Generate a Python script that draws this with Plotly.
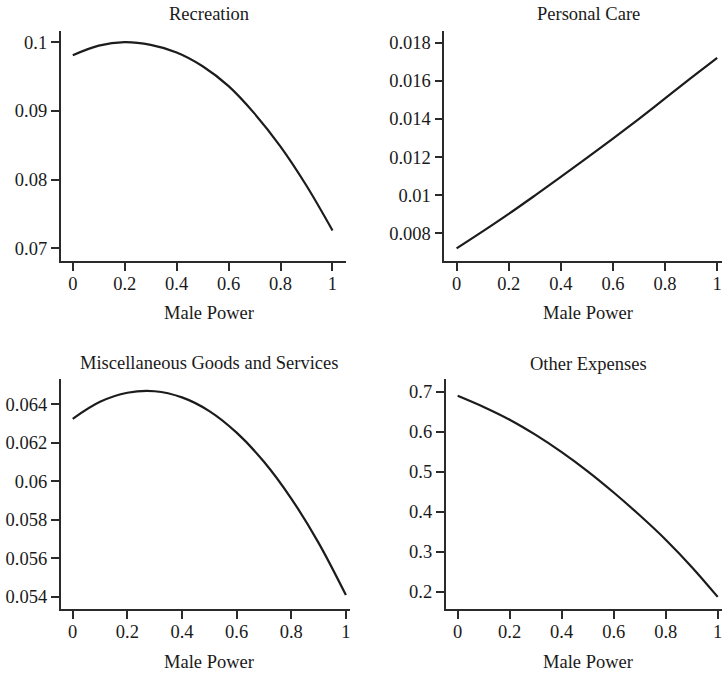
import plotly.graph_objects as go

male_power = [0.0, 0.1, 0.2, 0.3, 0.4, 0.5, 0.6, 0.7, 0.8, 0.9, 1.0]

recreation = [0.0981, 0.0995, 0.1000, 0.0996, 0.0985, 0.0965, 0.0936, 0.0896, 0.0848, 0.0791, 0.0726]
personal_care = [0.00721, 0.00810, 0.00902, 0.00998, 0.01096, 0.01196, 0.01297, 0.01401, 0.01508, 0.01615, 0.01721]
misc_goods = [0.06325, 0.06413, 0.06460, 0.06468, 0.06436, 0.06365, 0.06253, 0.06102, 0.05911, 0.05681, 0.05410]
other_expenses = [0.690, 0.662, 0.630, 0.592, 0.549, 0.501, 0.448, 0.391, 0.330, 0.262, 0.187]

titles = ["Recreation", "Personal Care", "Miscellaneous Goods and Services", "Other Expenses"]
x_title = "Male Power"

x_ticks = [0, 0.2, 0.4, 0.6, 0.8, 1]
x_ticktext = ["0", "0.2", "0.4", "0.6", "0.8", "1"]

y1_ticks = [0.07, 0.08, 0.09, 0.1]
y1_text = ["0.07", "0.08", "0.09", "0.1"]
y2_ticks = [0.008, 0.010, 0.012, 0.014, 0.016, 0.018]
y2_text = ["0.008", "0.01", "0.012", "0.014", "0.016", "0.018"]
y3_ticks = [0.054, 0.056, 0.058, 0.060, 0.062, 0.064]
y3_text = ["0.054", "0.056", "0.058", "0.06", "0.062", "0.064"]
y4_ticks = [0.2, 0.3, 0.4, 0.5, 0.6, 0.7]
y4_text = ["0.2", "0.3", "0.4", "0.5", "0.6", "0.7"]

W, H = 723, 673
FONT = "Liberation Serif"
LINE = "#1c1c1c"
AX = "#2a2a2a"
TXT = "#1a1a1a"

series = [recreation, personal_care, misc_goods, other_expenses]

fig = go.Figure()
for i, s in enumerate(series):
    suffix = "" if i == 0 else str(i + 1)
    fig.add_trace(go.Scatter(
        x=male_power, y=s, mode="lines",
        line=dict(color=LINE, width=2.2, shape="spline", smoothing=1.0),
        xaxis="x" + suffix, yaxis="y" + suffix, showlegend=False, hoverinfo="skip",
    ))

def px_x(p):
    return p / W

def px_y(p):
    return 1 - p / H

# pixel boxes: (left, right, top, bottom)
boxes = [(60.7, 346, 30.5, 261), (444.3, 722, 30.5, 261),
         (60.7, 350, 379.3, 609.3), (445.7, 722, 379.3, 609.3)]
x_ranges = [[-0.0465, 1.052], [-0.0472, 1.0185], [-0.044, 1.015], [-0.046, 1.0165]]
y_ranges = [[0.06815, 0.1017], [0.00655, 0.01864], [0.05336, 0.0653], [0.156, 0.731]]
y_ticks_all = [(y1_ticks, y1_text), (y2_ticks, y2_text), (y3_ticks, y3_text), (y4_ticks, y4_text)]

layout = dict(
    width=W, height=H, margin=dict(l=0, r=0, t=0, b=0),
    paper_bgcolor="white", plot_bgcolor="white",
    font=dict(family=FONT, size=18.5, color=TXT),
    showlegend=False,
)
axis_common = dict(showgrid=False, zeroline=False, showline=True, linecolor=AX, linewidth=1.6,
                   ticks="outside", ticklen=8, tickwidth=1.5, tickcolor=AX,
                   tickfont=dict(family=FONT, size=18.5, color=TXT), fixedrange=True)
for i in range(4):
    l, r, t, b = boxes[i]
    suffix = "" if i == 0 else str(i + 1)
    xa = dict(axis_common, domain=[px_x(l), px_x(r)], range=x_ranges[i],
              tickvals=x_ticks, ticktext=x_ticktext, anchor="y" + suffix,
              ticklabelstandoff=-3)
    yv, yt = y_ticks_all[i]
    ya = dict(axis_common, domain=[px_y(b), px_y(t)], range=y_ranges[i],
              tickvals=yv, ticktext=yt, anchor="x" + suffix)
    layout["xaxis" + suffix] = xa
    layout["yaxis" + suffix] = ya

annotations = []
title_pos = [(209, 14), (588, 14), (209, 363), (588, 364)]
label_pos = [(209, 313), (588, 313), (209, 662), (588, 662)]
for i in range(4):
    tx, ty = title_pos[i]
    annotations.append(dict(text=titles[i], x=px_x(tx), y=px_y(ty), xref="paper", yref="paper",
                            showarrow=False, xanchor="center", yanchor="middle",
                            font=dict(family=FONT, size=18.5, color=TXT)))
    lx, ly = label_pos[i]
    annotations.append(dict(text=x_title, x=px_x(lx), y=px_y(ly), xref="paper", yref="paper",
                            showarrow=False, xanchor="center", yanchor="middle",
                            font=dict(family=FONT, size=18.5, color=TXT)))
layout["annotations"] = annotations

fig.update_layout(**layout)
fig.write_html("out.html", config={"displayModeBar": False},
               post_script="document.body.style.margin='0';document.body.style.overflow='hidden';")
